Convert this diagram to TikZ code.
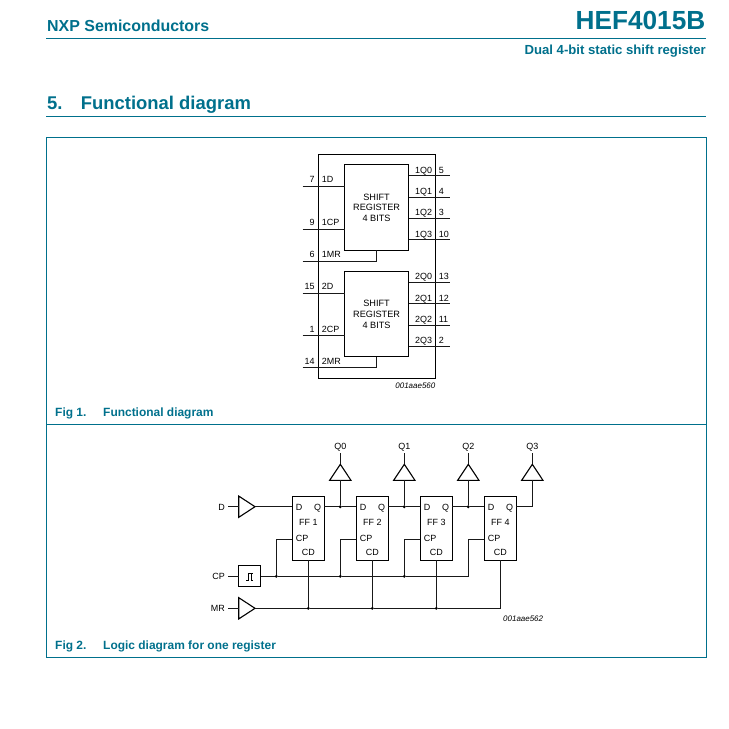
\documentclass[tikz,border=0pt]{standalone}
\usepackage{fontspec}
\setmainfont{Liberation Sans}
\usepackage{tikz}
\usetikzlibrary{shapes.geometric}
\definecolor{nxpteal}{RGB}{0,112,140}
\tikzset{
  wire/.style={line width=1bp,black!90},
  frameline/.style={line width=1bp,nxpteal},
  regbox/.style={draw,line width=1bp,minimum width=64.2bp,minimum height=85.2bp,inner sep=0pt,outer sep=0pt,align=center,font=\fontsize{9.2}{10.65}\selectfont},
  ffbox/.style={draw,line width=1bp,minimum width=32bp,minimum height=64bp,inner sep=0pt,outer sep=0pt},
  schmittbox/.style={draw,line width=1bp,minimum width=22bp,minimum height=21.3bp,inner sep=0pt,outer sep=0pt},
  bufright/.style={draw,line width=1.1bp,isosceles triangle,isosceles triangle stretches,shape border rotate=0,anchor=apex,minimum width=21.3bp,minimum height=16.3bp,inner sep=0pt,outer sep=0pt},
  bufup/.style={draw,line width=1.1bp,isosceles triangle,isosceles triangle stretches,shape border rotate=90,anchor=apex,minimum width=21.3bp,minimum height=16bp,inner sep=0pt,outer sep=0pt},
  joint/.style={circle,fill=black,minimum size=3.2bp,inner sep=0pt,outer sep=0pt},
  pinw/.style={anchor=base west,inner sep=0pt,font=\fontsize{9}{10}\selectfont},
  pine/.style={anchor=base east,inner sep=0pt,font=\fontsize{9}{10}\selectfont},
  pinc/.style={anchor=base,inner sep=0pt,font=\fontsize{9}{10}\selectfont},
  drawno/.style={anchor=base east,inner sep=0pt,font=\fontsize{8}{10}\itshape\selectfont},
  headtext/.style={inner sep=0pt,text=nxpteal,font=\bfseries}
}
\begin{document}
\begin{tikzpicture}
\useasboundingbox (0bp,0bp) rectangle (729bp,-729bp);

\node (Maker) at (47bp,-31bp)[headtext,anchor=base west,font=\fontsize{16}{18}\bfseries\selectfont] {NXP Semiconductors};
\node (Part) at (705.5bp,-29.5bp)[headtext,anchor=base east,font=\fontsize{26.3}{28}\bfseries\selectfont] {HEF4015B};
\node (Sub) at (706bp,-54bp)[headtext,anchor=base east,font=\fontsize{13.2}{15}\bfseries\selectfont] {Dual 4-bit static shift register};
\node (SecNo) at (47bp,-109bp)[headtext,anchor=base west,font=\fontsize{18.5}{20}\bfseries\selectfont] {5.};
\node (Sec) at (80.7bp,-109bp)[headtext,anchor=base west,font=\fontsize{18.5}{20}\bfseries\selectfont] {Functional diagram};
\node (Fig1No) at (55bp,-416bp)[headtext,anchor=base west,font=\fontsize{12}{14}\bfseries\selectfont] {Fig 1.};
\node (Fig1) at (103bp,-416bp)[headtext,anchor=base west,font=\fontsize{12}{14}\bfseries\selectfont] {Functional diagram};
\node (Fig2No) at (55bp,-649bp)[headtext,anchor=base west,font=\fontsize{12}{14}\bfseries\selectfont] {Fig 2.};
\node (Fig2) at (103bp,-649bp)[headtext,anchor=base west,font=\fontsize{12}{14}\bfseries\selectfont] {Logic diagram for one register};
\draw [frameline] (46bp,-38.5bp) to (706bp,-38.5bp);
\draw [frameline] (46bp,-116.5bp) to (706bp,-116.5bp);
\draw [frameline] (46.5bp,-137.5bp) rectangle (706.5bp,-657.5bp);
\draw [frameline] (46.5bp,-424.5bp) to (706.5bp,-424.5bp);

\draw [line width=1bp] (318bp,-154bp) rectangle (435bp,-378bp);
\node (SR1) at (376.6bp,-207.5bp)[regbox] {SHIFT\\REGISTER\\4 BITS};
\node (SR2) at (376.6bp,-314.3bp)[regbox] {SHIFT\\REGISTER\\4 BITS};

\coordinate (In1D) at (302.7bp,-186.3bp);
\coordinate (In1CP) at (302.7bp,-229bp);
\coordinate (In1MR) at (302.7bp,-261bp);
\coordinate (In2D) at (302.7bp,-293bp);
\coordinate (In2CP) at (302.7bp,-335.7bp);
\coordinate (In2MR) at (302.7bp,-367.7bp);
\coordinate (Out1Q0) at (450bp,-175.7bp);
\coordinate (Out1Q1) at (450bp,-197bp);
\coordinate (Out1Q2) at (450bp,-218.3bp);
\coordinate (Out1Q3) at (450bp,-239.7bp);
\coordinate (Out2Q0) at (450bp,-282.3bp);
\coordinate (Out2Q1) at (450bp,-303.7bp);
\coordinate (Out2Q2) at (450bp,-325bp);
\coordinate (Out2Q3) at (450bp,-346.3bp);

\draw [wire] (In1D) to (In1D -| SR1.west);
\draw [wire] (In1CP) to (In1CP -| SR1.west);
\draw [wire] (In1MR) -| (SR1.south);
\draw [wire] (In2D) to (In2D -| SR2.west);
\draw [wire] (In2CP) to (In2CP -| SR2.west);
\draw [wire] (In2MR) -| (SR2.south);
\draw [wire] (Out1Q0 -| SR1.east) to (Out1Q0);
\draw [wire] (Out1Q1 -| SR1.east) to (Out1Q1);
\draw [wire] (Out1Q2 -| SR1.east) to (Out1Q2);
\draw [wire] (Out1Q3 -| SR1.east) to (Out1Q3);
\draw [wire] (Out2Q0 -| SR2.east) to (Out2Q0);
\draw [wire] (Out2Q1 -| SR2.east) to (Out2Q1);
\draw [wire] (Out2Q2 -| SR2.east) to (Out2Q2);
\draw [wire] (Out2Q3 -| SR2.east) to (Out2Q3);

\node (No1D) at (314.7bp,-182.7bp)[pine] {7};
\node (No1CP) at (314.7bp,-225.4bp)[pine] {9};
\node (No1MR) at (314.7bp,-257.4bp)[pine] {6};
\node (No2D) at (314.7bp,-289.4bp)[pine] {15};
\node (No2CP) at (314.7bp,-332.1bp)[pine] {1};
\node (No2MR) at (314.7bp,-364.1bp)[pine] {14};
\node (Lb1D) at (321.7bp,-182.7bp)[pinw] {1D};
\node (Lb1CP) at (321.7bp,-225.4bp)[pinw] {1CP};
\node (Lb1MR) at (321.7bp,-257.4bp)[pinw] {1MR};
\node (Lb2D) at (321.7bp,-289.4bp)[pinw] {2D};
\node (Lb2CP) at (321.7bp,-332.1bp)[pinw] {2CP};
\node (Lb2MR) at (321.7bp,-364.1bp)[pinw] {2MR};
\node (Lb1Q0) at (415bp,-173.3bp)[pinw] {1Q0};
\node (Lb1Q1) at (415bp,-194.6bp)[pinw] {1Q1};
\node (Lb1Q2) at (415bp,-215.9bp)[pinw] {1Q2};
\node (Lb1Q3) at (415bp,-237.3bp)[pinw] {1Q3};
\node (Lb2Q0) at (415bp,-279.9bp)[pinw] {2Q0};
\node (Lb2Q1) at (415bp,-301.3bp)[pinw] {2Q1};
\node (Lb2Q2) at (415bp,-322.6bp)[pinw] {2Q2};
\node (Lb2Q3) at (415bp,-343.9bp)[pinw] {2Q3};
\node (No1Q0) at (438.7bp,-173.3bp)[pinw] {5};
\node (No1Q1) at (438.7bp,-194.6bp)[pinw] {4};
\node (No1Q2) at (438.7bp,-215.9bp)[pinw] {3};
\node (No1Q3) at (438.7bp,-237.3bp)[pinw] {10};
\node (No2Q0) at (438.7bp,-279.9bp)[pinw] {13};
\node (No2Q1) at (438.7bp,-301.3bp)[pinw] {12};
\node (No2Q2) at (438.7bp,-322.6bp)[pinw] {11};
\node (No2Q3) at (438.7bp,-343.9bp)[pinw] {2};
\node (Dwg1) at (435.5bp,-388.3bp)[drawno] {001aae560};

\node (FF1) at (308.3bp,-528.3bp)[ffbox] {};
\node (FF2) at (372.3bp,-528.3bp)[ffbox] {};
\node (FF3) at (436.3bp,-528.3bp)[ffbox] {};
\node (FF4) at (500.3bp,-528.3bp)[ffbox] {};
\node (BufD) at (255bp,-506.7bp)[bufright] {};
\node (BufMR) at (255bp,-608.3bp)[bufright] {};
\node (Trig) at (249.7bp,-576.3bp)[schmittbox] {};
\draw [line width=1bp] (246.3bp,-580bp) to (248.2bp,-580bp) to (248.2bp,-573bp) to (253.2bp,-573bp);
\draw [line width=1bp] (251.2bp,-573bp) to (251.2bp,-580bp) to (253bp,-580bp);
\node (BufQ0) at (340.3bp,-464.3bp)[bufup] {};
\node (BufQ1) at (404.3bp,-464.3bp)[bufup] {};
\node (BufQ2) at (468.3bp,-464.3bp)[bufup] {};
\node (BufQ3) at (532.3bp,-464.3bp)[bufup] {};

\node (JQ0) at (340.3bp,-506.7bp)[joint] {};
\node (JQ1) at (404.3bp,-506.7bp)[joint] {};
\node (JQ2) at (468.3bp,-506.7bp)[joint] {};
\node (JC1) at (276.3bp,-576.3bp)[joint] {};
\node (JC2) at (340.3bp,-576.3bp)[joint] {};
\node (JC3) at (404.3bp,-576.3bp)[joint] {};
\node (JR1) at (308.3bp,-608.3bp)[joint] {};
\node (JR2) at (372.3bp,-608.3bp)[joint] {};
\node (JR3) at (436.3bp,-608.3bp)[joint] {};
\coordinate (CkEnd) at (468bp,-576.3bp);
\coordinate (RstEnd) at (500.3bp,-608.3bp);
\coordinate (TopQ3) at (532.3bp,-506.7bp);
\coordinate (CkPin1) at (292.3bp,-539bp);
\coordinate (CkPin2) at (356.3bp,-539bp);
\coordinate (CkPin3) at (420.3bp,-539bp);
\coordinate (CkPin4) at (484.3bp,-539bp);

\node (LbD) at (225bp,-510bp)[pine] {D};
\node (LbCP) at (225bp,-579.7bp)[pine] {CP};
\node (LbMR) at (225bp,-611.7bp)[pine] {MR};
\coordinate (StubD) at (228bp,-506.7bp);
\coordinate (StubCP) at (228bp,-576.3bp);
\coordinate (StubMR) at (228bp,-608.3bp);
\node (LbQ0) at (340.3bp,-449.5bp)[pinc] {Q0};
\node (LbQ1) at (404.3bp,-449.5bp)[pinc] {Q1};
\node (LbQ2) at (468.3bp,-449.5bp)[pinc] {Q2};
\node (LbQ3) at (532.3bp,-449.5bp)[pinc] {Q3};
\coordinate (StubQ0) at (340.3bp,-453.3bp);
\coordinate (StubQ1) at (404.3bp,-453.3bp);
\coordinate (StubQ2) at (468.3bp,-453.3bp);
\coordinate (StubQ3) at (532.3bp,-453.3bp);

\draw [wire] (StubD) to (BufD.west);
\draw [wire] (BufD.apex) to (FF1.west |- BufD.apex);
\draw [wire] (StubCP) to (Trig.west);
\draw [wire] (StubMR) to (BufMR.west);
\draw [wire] (Trig.east) to (JC1) to (JC2) to (JC3) to (CkEnd) |- (CkPin4);
\draw [wire] (BufMR.apex) to (JR1) to (JR2) to (JR3) to (RstEnd) to (FF4.south);
\draw [wire] (JC1) |- (CkPin1);
\draw [wire] (JC2) |- (CkPin2);
\draw [wire] (JC3) |- (CkPin3);
\draw [wire] (JR1) to (FF1.south);
\draw [wire] (JR2) to (FF2.south);
\draw [wire] (JR3) to (FF3.south);
\draw [wire] (FF1.east |- JQ0) to (JQ0) to (FF2.west |- JQ0);
\draw [wire] (FF2.east |- JQ1) to (JQ1) to (FF3.west |- JQ1);
\draw [wire] (FF3.east |- JQ2) to (JQ2) to (FF4.west |- JQ2);
\draw [wire] (FF4.east |- TopQ3) to (TopQ3) to (BufQ3.south);
\draw [wire] (JQ0) to (BufQ0.south);
\draw [wire] (JQ1) to (BufQ1.south);
\draw [wire] (JQ2) to (BufQ2.south);
\draw [wire] (BufQ0.apex) to (StubQ0);
\draw [wire] (BufQ1.apex) to (StubQ1);
\draw [wire] (BufQ2.apex) to (StubQ2);
\draw [wire] (BufQ3.apex) to (StubQ3);

\node (D1) at (295.7bp,-510bp)[pinw] {D};
\node (Q1) at (314bp,-510bp)[pinw] {Q};
\node (T1) at (308.3bp,-525.7bp)[pinc] {FF 1};
\node (P1) at (295.7bp,-541.7bp)[pinw] {CP};
\node (R1) at (308.3bp,-555.7bp)[pinc] {CD};
\node (D2) at (359.7bp,-510bp)[pinw] {D};
\node (Q2) at (378bp,-510bp)[pinw] {Q};
\node (T2) at (372.3bp,-525.7bp)[pinc] {FF 2};
\node (P2) at (359.7bp,-541.7bp)[pinw] {CP};
\node (R2) at (372.3bp,-555.7bp)[pinc] {CD};
\node (D3) at (423.7bp,-510bp)[pinw] {D};
\node (Q3) at (442bp,-510bp)[pinw] {Q};
\node (T3) at (436.3bp,-525.7bp)[pinc] {FF 3};
\node (P3) at (423.7bp,-541.7bp)[pinw] {CP};
\node (R3) at (436.3bp,-555.7bp)[pinc] {CD};
\node (D4) at (487.7bp,-510bp)[pinw] {D};
\node (Q4) at (506bp,-510bp)[pinw] {Q};
\node (T4) at (500.3bp,-525.7bp)[pinc] {FF 4};
\node (P4) at (487.7bp,-541.7bp)[pinw] {CP};
\node (R4) at (500.3bp,-555.7bp)[pinc] {CD};
\node (Dwg2) at (543.3bp,-621bp)[drawno] {001aae562};
\end{tikzpicture}
\end{document}
